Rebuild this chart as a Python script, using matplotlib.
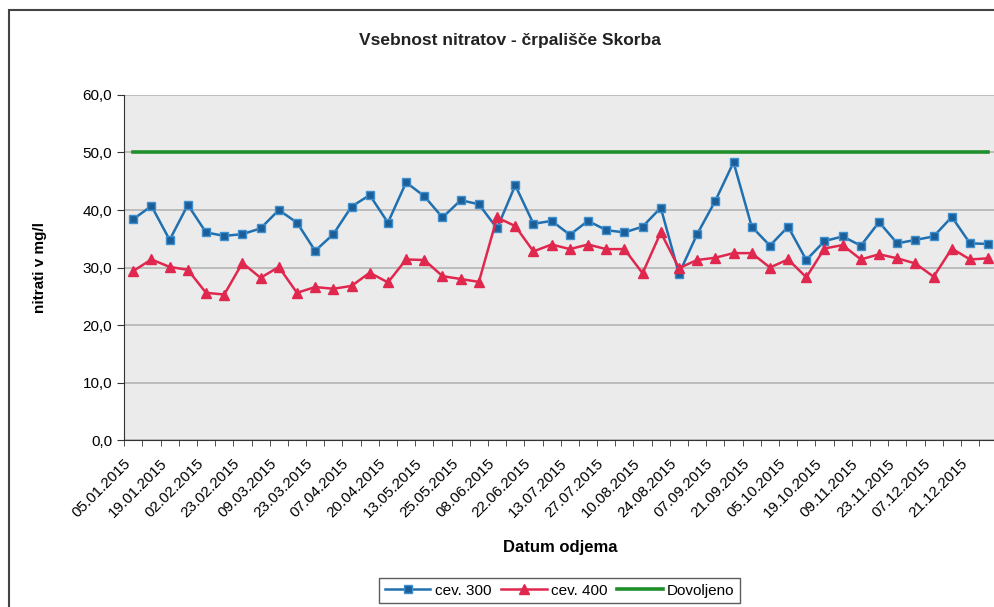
import numpy as np
import matplotlib.pyplot as plt
import matplotlib.transforms as mtransforms
from matplotlib.patches import Rectangle
from matplotlib.ticker import FuncFormatter

plt.rcParams['font.family'] = ['Liberation Sans', 'DejaVu Sans']

# tick labels (every second sample is labelled on the category axis)
date_labels = ['05.01.2015', '19.01.2015', '02.02.2015', '23.02.2015', '09.03.2015',
               '23.03.2015', '07.04.2015', '20.04.2015', '13.05.2015', '25.05.2015',
               '08.06.2015', '22.06.2015', '13.07.2015', '27.07.2015', '10.08.2015',
               '24.08.2015', '07.09.2015', '21.09.2015', '05.10.2015', '19.10.2015',
               '09.11.2015', '23.11.2015', '07.12.2015', '21.12.2015']

cev300 = [38.4, 40.7, 34.8, 40.9, 36.1, 35.5, 35.8, 36.8, 40.0, 37.8,
          32.9, 35.8, 40.6, 42.6, 37.8, 44.8, 42.4, 38.7, 41.7, 41.0,
          36.8, 44.3, 37.6, 38.1, 35.7, 38.1, 36.5, 36.1, 37.1, 40.4,
          28.9, 35.8, 41.6, 48.3, 37.1, 33.8, 37.1, 31.3, 34.6, 35.4,
          33.8, 37.9, 34.2, 34.8, 35.4, 38.8, 34.2, 34.1]

cev400 = [29.4, 31.4, 30.1, 29.6, 25.6, 25.3, 30.8, 28.2, 30.1, 25.6,
          26.6, 26.3, 26.8, 29.1, 27.4, 31.4, 31.3, 28.5, 28.0, 27.5,
          38.7, 37.2, 32.8, 34.0, 33.2, 34.0, 33.2, 33.2, 29.0, 36.1,
          29.9, 31.3, 31.7, 32.5, 32.5, 30.0, 31.4, 28.3, 33.3, 33.9,
          31.4, 32.3, 31.6, 30.7, 28.4, 33.3, 31.4, 31.6]

dovoljeno = [50.0] * len(cev300)

x = np.arange(len(cev300))

fig = plt.figure(figsize=(9.95, 6.07), dpi=100)
# outer chart border (the scan is cut on the right and bottom)
fig.patches.append(Rectangle((9 / 995, -0.05), 1.1, 1 - 10 / 607 + 0.05,
                             transform=fig.transFigure, fill=False,
                             edgecolor='#444444', linewidth=1.5))

ax = fig.add_axes([0.1248, 0.2751, 0.8775, 0.5684])
ax.set_facecolor('#ebebeb')

ax.plot(x, cev300, color='#2070b0', linewidth=1.8, marker='s', markersize=6,
        markerfacecolor='#1c5f98', markeredgecolor='#3d8fd0', label='cev. 300', zorder=3)
ax.plot(x, cev400, color='#e0284f', linewidth=1.8, marker='^', markersize=7.5,
        markerfacecolor='#e0284f', markeredgecolor='#e0284f', label='cev. 400', zorder=3)
ax.plot(x, dovoljeno, color='#1f8f2a', linewidth=2.6, label='Dovoljeno', zorder=2)

ax.set_xlim(-0.5, len(cev300) - 0.5)
ax.set_ylim(0, 60)
ax.set_yticks(np.arange(0, 61, 10))
ax.yaxis.set_major_formatter(FuncFormatter(lambda v, p: f'{v:.1f}'.replace('.', ',')))
ax.grid(axis='y', color='#b4b4b4', linewidth=1.2)
ax.set_axisbelow(True)

ax.set_xticks(np.arange(-0.5, len(cev300), 1), minor=True)
ax.set_xticks(np.arange(0, len(cev300), 2))
ax.set_xticklabels(date_labels, rotation=45, ha='right', rotation_mode='anchor', fontsize=11)
ax.tick_params(axis='x', which='major', length=0, pad=12)
ax.tick_params(axis='x', which='minor', length=4, color='#333333')
ax.tick_params(axis='y', length=5, color='#333333', labelsize=11)

# shift the rotated date labels a little to the left, like in the original
shift = mtransforms.ScaledTranslation(-7 / 72, 0, fig.dpi_scale_trans)
for lbl in ax.get_xticklabels():
    lbl.set_transform(lbl.get_transform() + shift)

for side in ['top', 'right']:
    ax.spines[side].set_visible(False)
ax.spines['left'].set_color('#333333')
ax.spines['bottom'].set_color('#333333')

ax.set_ylabel('nitrati v mg/l', fontsize=11, fontweight='bold')
ax.yaxis.set_label_coords(-0.0884, 0.5)
ax.set_xlabel('Datum odjema', fontsize=12, fontweight='bold', labelpad=14)
fig.text(0.512, 0.934, 'Vsebnost nitratov - črpališče Skorba', ha='center', va='center',
         fontsize=12.5, fontweight='bold', color='#222222')

leg = fig.legend(loc='center', bbox_to_anchor=(0.5625, 0.027), ncol=3, fontsize=11,
                 frameon=True, fancybox=False, edgecolor='#333333',
                 handlelength=3, columnspacing=0.6, handletextpad=0.3, borderpad=0.35)
leg.get_frame().set_linewidth(1.0)

fig.savefig('out.png', dpi=100)
